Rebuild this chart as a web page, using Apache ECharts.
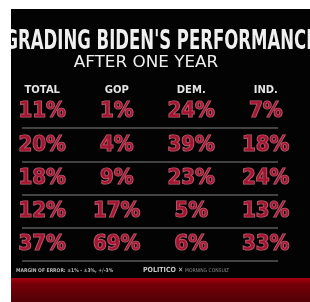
<!DOCTYPE html>
<html>
<head>
<meta charset="utf-8">
<script src="https://cdn.jsdelivr.net/npm/echarts@6/dist/echarts.min.js"></script>
<style>
  html, body { margin: 0; padding: 0; background: #fff; }
  #chart { width: 310px; height: 302px; }
</style>
</head>
<body>
<div id="chart"></div>
<script>
// columns and grade rows (row labels not shown on the graphic)
const groups = ['TOTAL', 'GOP', 'DEM.', 'IND.'];
const grades = ['A', 'B', 'C', 'D', 'F'];
const total = [11, 20, 18, 12, 37];
const gop = [1, 4, 9, 17, 69];
const dem = [24, 39, 23, 5, 6];
const ind = [7, 18, 24, 13, 33];

const columns = [total, gop, dem, ind];
const cells = [];
columns.forEach((col, ci) => {
  col.forEach((v, ri) => {
    cells.push([ci, ri, v]);
  });
});

const chart = echarts.init(document.getElementById('chart'));

const option = {
  backgroundColor: '#ffffff',
  animation: false,
  graphic: [
    { type: 'rect', shape: { x: 11, y: 9, width: 299, height: 293 }, style: { fill: '#030303' }, z: 0 },
    {
      type: 'rect', shape: { x: 11, y: 278, width: 299, height: 24 },
      style: {
        fill: new echarts.graphic.LinearGradient(0, 0, 0, 1, [
          { offset: 0, color: '#a8000e' },
          { offset: 0.25, color: '#760008' },
          { offset: 1, color: '#520005' }
        ])
      },
      z: 1
    },
    {
      type: 'text', x: 161, y: 42, scaleX: 0.68, z: 2,
      style: {
        text: "GRADING BIDEN'S PERFORMANCE", fill: '#f0f0f0',
        font: 'bold 27px "DejaVu Sans Condensed"', align: 'center', verticalAlign: 'middle'
      }
    },
    {
      type: 'text', x: 146, y: 63, scaleX: 1.05, z: 2,
      style: {
        text: 'AFTER ONE YEAR', fill: '#f0f0f0',
        font: '16px "DejaVu Sans"', align: 'center', verticalAlign: 'middle'
      }
    },
    { type: 'rect', shape: { x: 0, y: 0, width: 11, height: 302 }, style: { fill: '#ffffff' }, z: 3 },
    {
      type: 'text', left: 16, top: 268, z: 2,
      style: { text: 'MARGIN OF ERROR: ±1% - ±3%, +/-3%', fill: '#b8b8b8', font: 'bold 5px "DejaVu Sans Condensed"' }
    },
    {
      type: 'text', left: 143, top: 267, z: 2,
      style: { text: 'POLITICO ✕', fill: '#c8c8c8', font: 'bold 7px "DejaVu Sans Condensed"' }
    },
    {
      type: 'text', left: 185, top: 268, z: 2,
      style: { text: 'MORNING CONSULT', fill: '#8a8a8a', font: '5px "DejaVu Sans Condensed"' }
    }
  ],
  grid: [
    { left: 5, top: 95, width: 298, height: 166 },
    { left: 22, top: 95, width: 256, height: 166 }
  ],
  xAxis: [
    {
      type: 'category', gridIndex: 0, data: groups, position: 'top',
      axisLine: { show: false }, axisTick: { show: false },
      axisLabel: { color: '#e4e4e4', fontFamily: 'DejaVu Sans', fontWeight: 'bold', fontSize: 10, margin: 0 }
    },
    { type: 'category', gridIndex: 1, data: groups, show: false }
  ],
  yAxis: [
    {
      type: 'category', gridIndex: 0, data: grades, inverse: true, show: false
    },
    {
      type: 'category', gridIndex: 1, data: grades, inverse: true,
      axisLine: { show: false }, axisTick: { show: false }, axisLabel: { show: false },
      splitLine: {
        show: true,
        interval: (i) => i > 0 && i < grades.length,
        lineStyle: { color: '#5a5a5a', width: 1.5 }
      }
    }
  ],
  series: [
    {
      type: 'scatter', xAxisIndex: 0, yAxisIndex: 0,
      data: cells, symbolSize: 0,
      label: {
        show: true, position: 'inside',
        formatter: (p) => p.value[2] + '%',
        color: '#c41c3c',
        fontFamily: 'DejaVu Sans Condensed', fontWeight: 'bold', fontSize: 22,
        textBorderColor: '#e07f92', textBorderWidth: 1.2
      },
      z: 5
    }
  ]
};

chart.setOption(option);
</script>
</body>
</html>
